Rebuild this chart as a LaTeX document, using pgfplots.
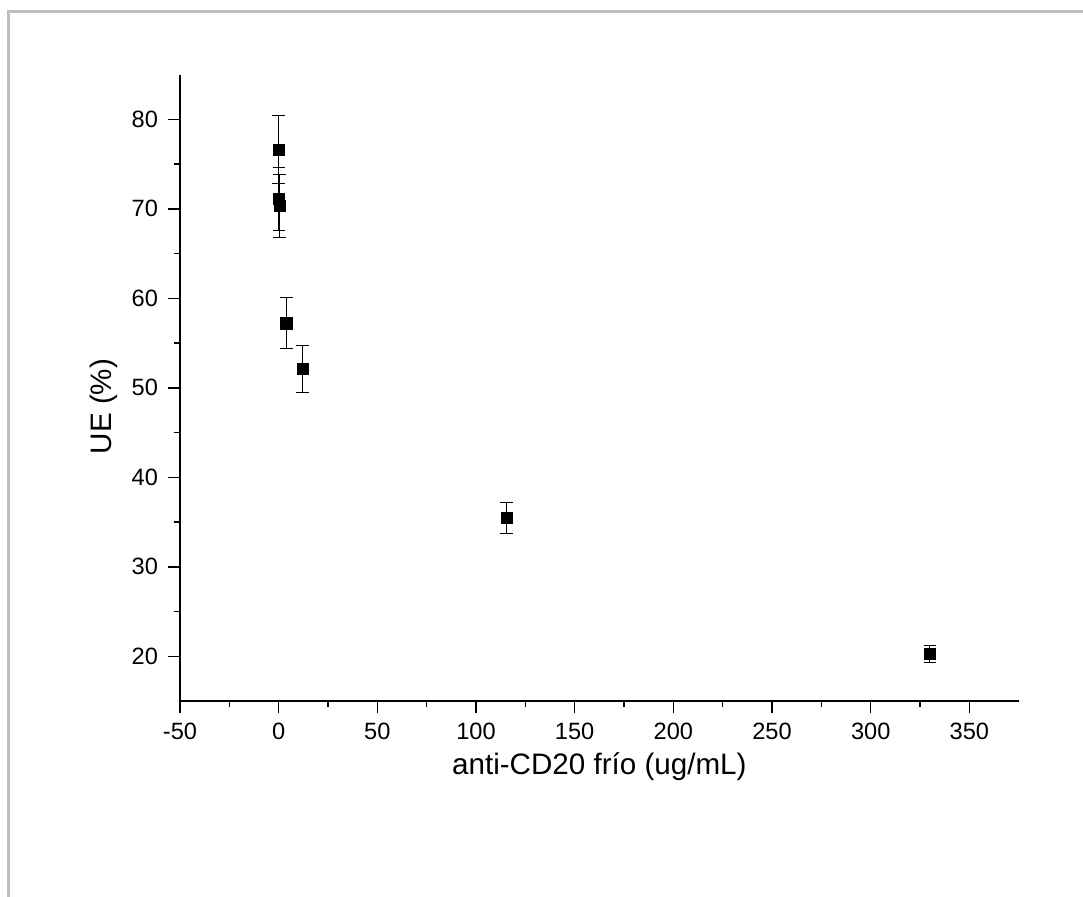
\documentclass[border=0pt]{standalone}
\usepackage{pgfplots}
\pgfplotsset{compat=1.18}
\usepackage{fontspec}
\setmainfont{Liberation Sans}

\begin{document}
\begin{tikzpicture}
% page = 1083 x 896 px at 0.5pt per px, axis origin at px (180,701)
\useasboundingbox (-90pt,-97.5pt) rectangle (451.5pt,350.5pt);
\draw[black!25, line width=1.5pt] (-85.75pt,-100pt) -- (-85.75pt,344.75pt) -- (455pt,344.75pt);
\begin{axis}[
  at={(0,0)}, anchor=south west,
  scale only axis,
  width=419.35pt, height=313.2pt,
  xmin=-50, xmax=375, ymin=15, ymax=85,
  axis lines*=left,
  axis line style={line width=0.9pt},
  tick align=outside,
  major tick length=6pt, minor tick length=3pt,
  every tick/.style={black, line width=0.75pt},
  xtick={-50,0,...,350}, ytick={20,30,...,80},
  minor x tick num=1, minor y tick num=1,
  tick label style={font=\fontsize{11.8}{14}\selectfont},
  /pgf/number format/assume math mode=true,
  xticklabel shift=1.5pt, yticklabel shift=1.5pt,
  label style={font=\fontsize{14.8}{18}\selectfont},
  xlabel={anti-CD20 frío (ug/mL)},
  ylabel={UE (\%)},
  xlabel style={at={(axis description cs:0.5,-0.105)}, anchor=center},
  ylabel style={at={(axis description cs:-0.0906,0.47)}, anchor=center},
  clip=false,
]
\addplot[only marks, mark=square*, mark size=2.8pt, black,
  error bars/.cd, y dir=both, y explicit,
  error bar style={line width=0.5pt, black},
  error mark options={rotate=90, mark size=3.2pt, line width=0.5pt, black}]
  table[x=x, y=y, y error=e] {
  x     y      e
  0.05  76.6   3.8
  0.15  71.1   3.55
  0.45  70.35  3.5
  3.9   57.2   2.84
  12.2  52.1   2.58
  115.5 35.45  1.76
  330   20.25  1.0
};
\end{axis}
\end{tikzpicture}
\end{document}
